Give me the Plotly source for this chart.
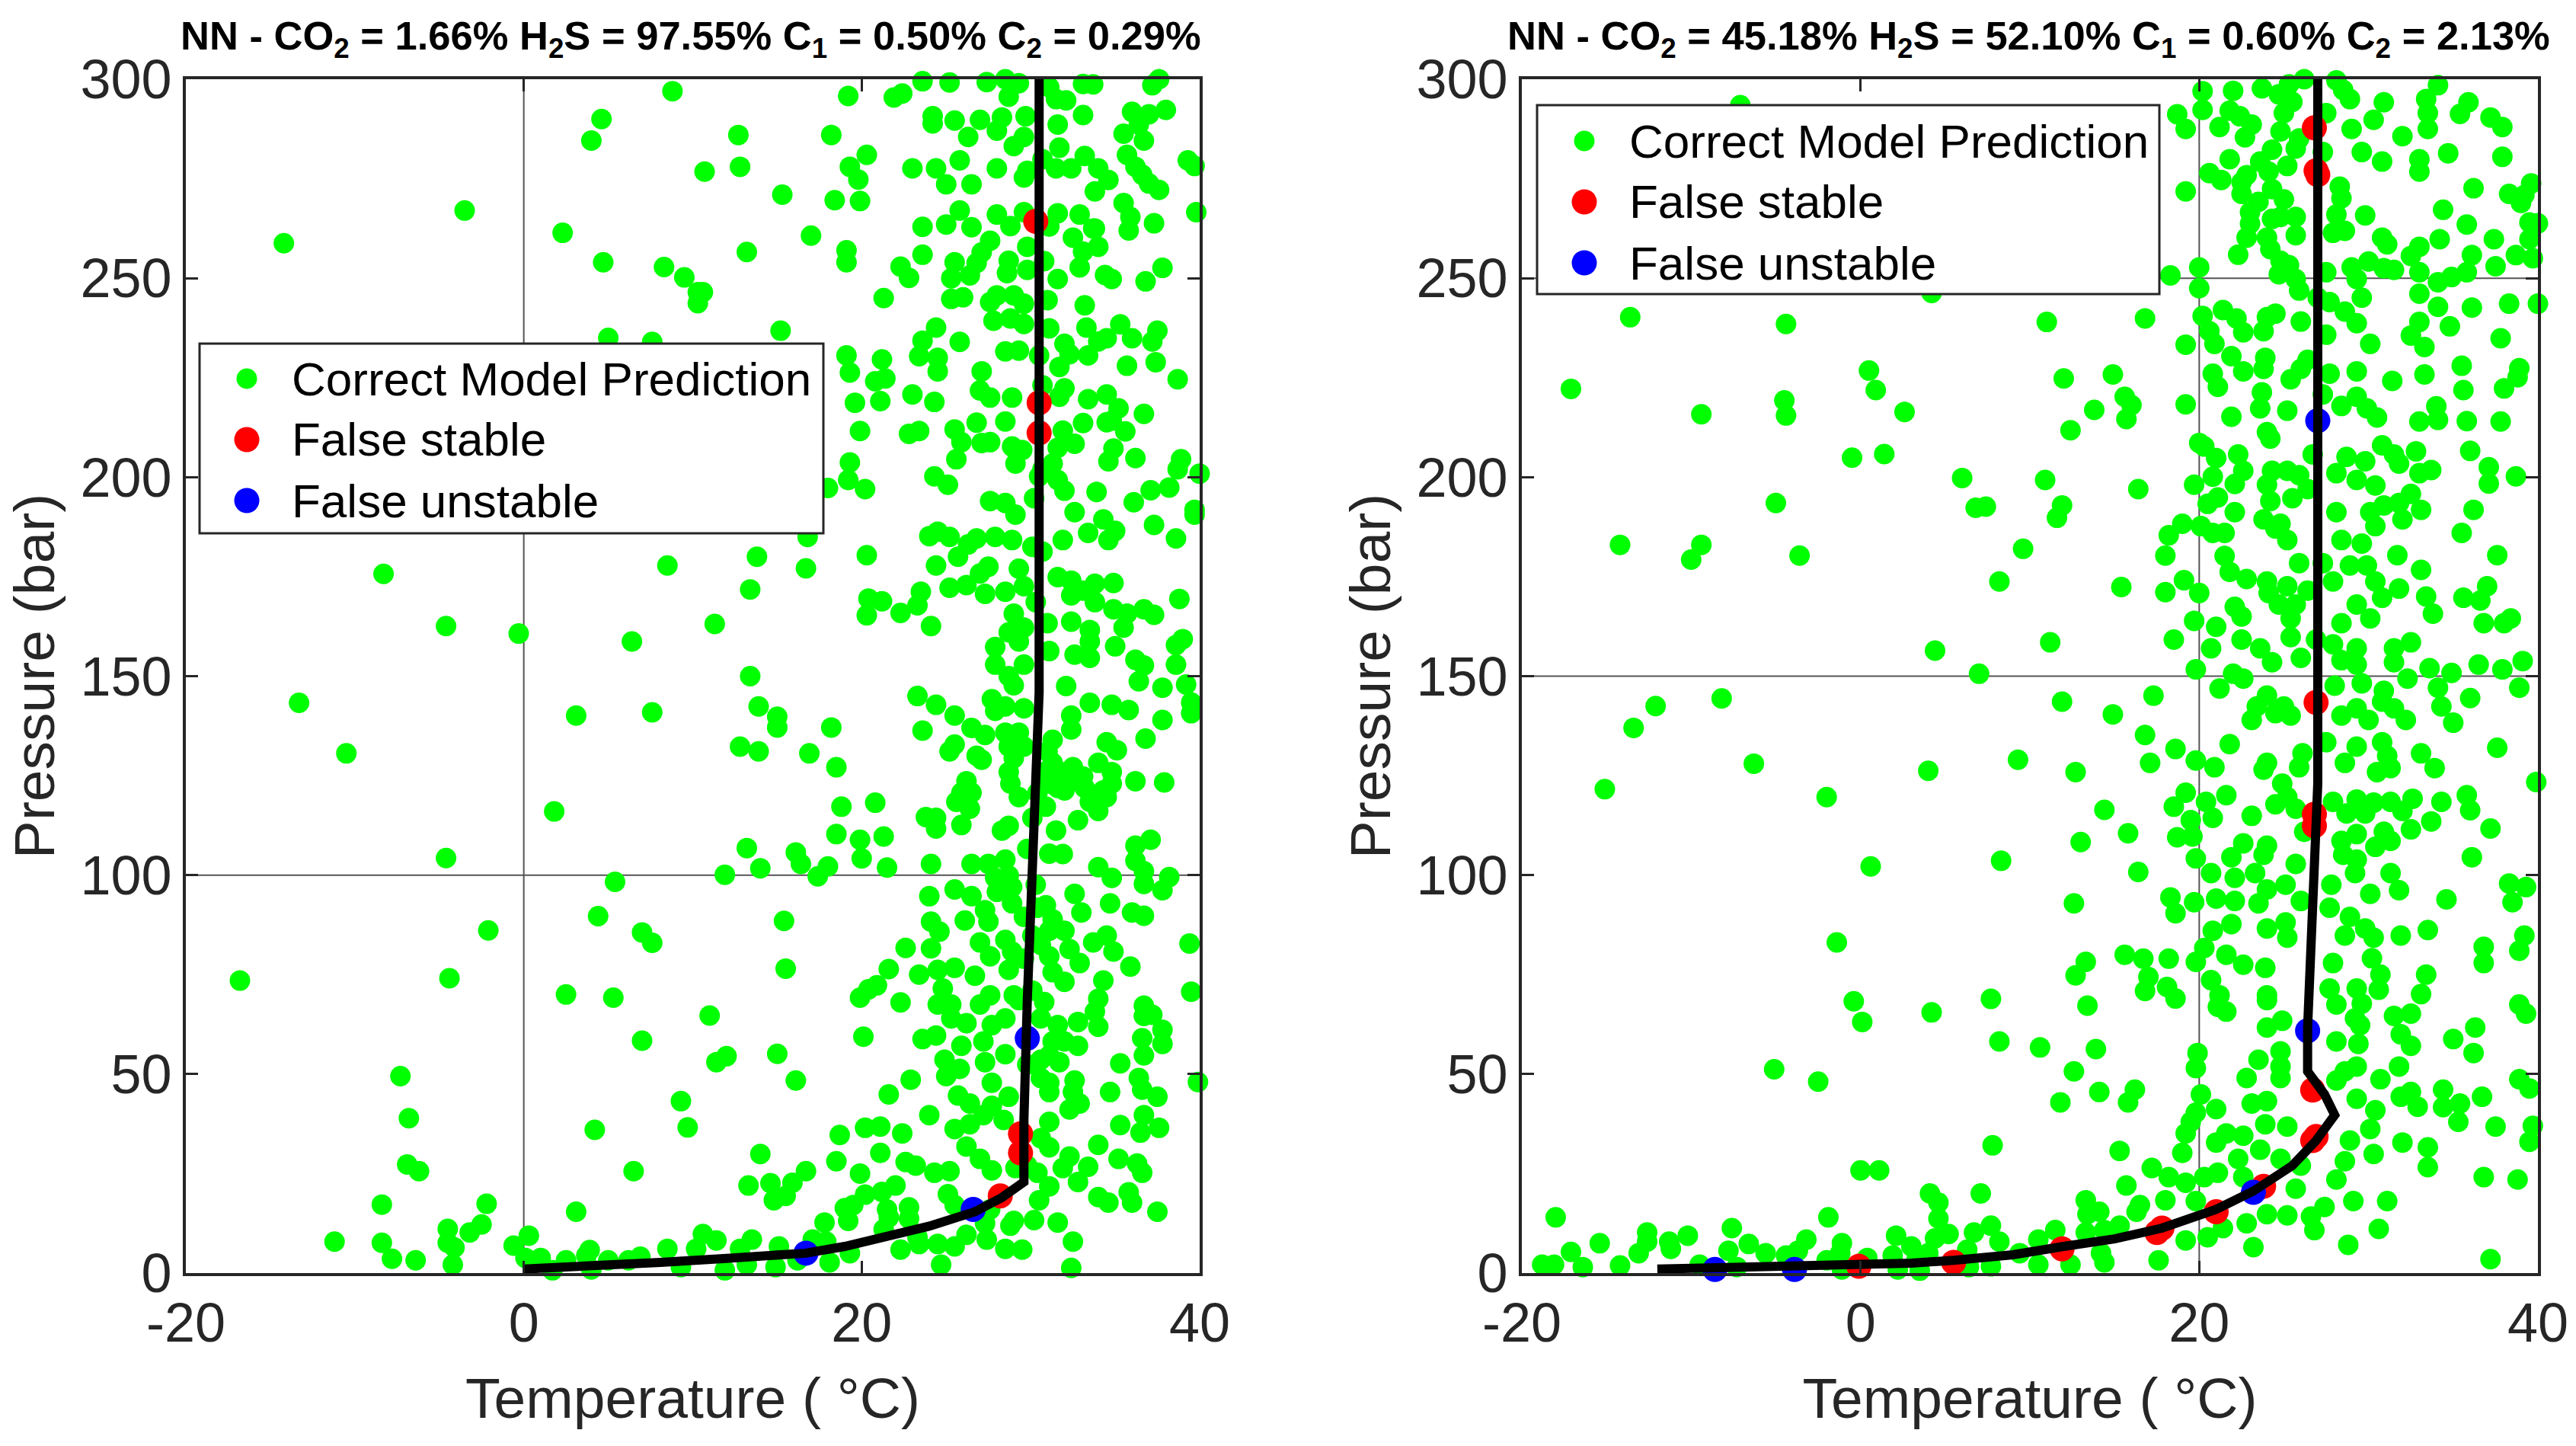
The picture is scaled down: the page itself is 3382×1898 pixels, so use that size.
import plotly.graph_objects as go

x_ticks = [-20, 0, 20, 40]
x_tick_labels = ["-20", "0", "20", "40"]
y_ticks = [0, 50, 100, 150, 200, 250, 300]
title_left = "NN - CO<sub>2</sub> = 1.66% H<sub>2</sub>S = 97.55% C<sub>1</sub> = 0.50% C<sub>2</sub> = 0.29%"
title_right = "NN - CO<sub>2</sub> = 45.18% H<sub>2</sub>S = 52.10% C<sub>1</sub> = 0.60% C<sub>2</sub> = 2.13%"
legend_labels = ["Correct Model Prediction", "False stable", "False unstable"]

left_line = [(0,1),(4,1.7),(8.1,2.7),(12,3.7),(16.7,5),(19,6.7),(21.5,9),(24,11.8),(26.7,15.4),(28.3,19),(29.6,22.9),(29.6,38.5),(29.8,68.6),(30.1,103),(30.5,146),(30.5,300)]
right_line = [(-12,1),(-4,1.5),(0,1.9),(3,2.5),(5.5,3.2),(9,4.6),(12,6.7),(15,8.6),(17.8,11.3),(21,16),(23.2,20.6),(25.5,27),(26.9,33.3),(28,39.7),(27.4,44.9),(26.4,50.7),(26.4,61.7),(26.8,100),(27,123),(27,143),(27,300)]
left_false_stable = [(30.3,264.3),(30.5,218.7),(30.5,211.1),(29.4,35),(29.4,30.2),(28.2,19.4)]
left_false_unstable = [(29.8,59),(26.6,16),(16.7,5)]
right_false_stable = [(26.8,287.8),(26.9,277),(27,276),(26.9,143.4),(26.8,115.3),(26.8,112.4),(26.7,46),(26.9,34.3),(26.7,33.3),(23.8,21.8),(21,15.4),(17.8,11.3),(17.5,10.2),(11.9,6.1),(5.5,2.7),(-0.1,1.7)]
right_false_unstable = [(27,214.2),(26.4,60.9),(23.2,20.3),(-3.9,0.9),(-8.6,0.9)]

left_correct = [
(-14.2,258.8),(-3.5,267),(8.8,297),(4.6,290),(4,284.6),(12.7,286),(10.7,276.8),(12.8,278),(18.2,286),(19.2,295.8),(20.3,281),(19.3,278),(19.8,274.8),(15.3,271),(18.4,269.6),(19.9,269.4),(2.3,261.4),(17,260.7),(13.2,256.6),(19.1,257),(19.1,254),(4.7,254),(8.3,252.8),(9.5,250.2),(10.3,246.5),(10.6,246.5),(10.3,243.7),(21.3,245),(15.2,236.8),(5,235),(7.6,234),(19.1,230.6),(21.2,229.6),(19.3,226.3),(21.4,224.8),(20.8,224.1),(19.6,218.7),(21.1,219.1),(19.9,211.6),(22.8,210.9),(23.4,211.6),(23,220.8),(24.3,218.9),(23.4,230.4),(24.5,230),(24.5,226.6),(23.6,234.3),(24.4,237.6),(25.8,234),(27.1,226.6),(27,221.8),(27.6,220),(28.9,220),(26.8,213.7),(25.5,212),(25.9,208.8),(27.1,208.6),(27.6,208.8),(28.5,214),(28.9,207.7),(29.5,206.8),(29.1,203.4),(25.6,204.5),(24.3,200.2),(25.1,198.1),(19.3,203.7),(19.2,199.3),(20.2,197),(18,197.3),(27.6,194),(28.5,193.5),(29.1,190.6),(30.2,194.7),(30.7,202),(31.3,203.4),(31.6,207.4),(32.6,208.4),(31.9,211.7),(33.1,213.6),(34.5,213.8),(35.6,211.5),(36.7,215.9),(35.2,217.3),(34.5,220.8),(33.4,219.6),(32,222.3),(31.7,220.2),(30.7,223.1),(30.5,230.6),(31.7,227.7),(32,233.5),(32.3,230.9),(33.4,230.6),(34,234.1),(34.5,234.9),(35.3,238.4),(33.3,237.6),(31.1,237.4),(36,234.9),(37.2,234.1),(37.5,236.8),(35.7,228),(37.4,228.9),(38.7,224.6),(34.8,214.2),(34.9,207.2),(34.6,204),(36.2,204.8),(38.9,204.5),(38.7,202),(40,200.9),(38.2,197.4),(37.1,196.7),(36.1,193.7),(33.9,196.3),(32,196.6),(31.6,199.3),(30.5,200.2),(39.7,191.8),(39.7,190.6),(32.6,191.2),(37.3,188),(38.6,184.6),(34.3,189.4),(33.4,186),(35,186.5),(34.6,184.2),(31.9,184.2),(30.7,181.3),(27.9,185),(26.8,184.6),(26.3,183.1),(25.7,180),(25.2,185),(24.5,186.3),(24,185.2),(28.9,184.2),(30.1,182.5),(29.3,177),(27.5,177.5),(24.4,177.8),(20.3,180.4),(16.8,185),(13.8,180),(8.5,177.8),(16.7,177.1),(-8.3,175.7),(13.4,171.8),(27,175.8),(26.2,172.9),(25.2,172.2),(27.3,170.7),(28.5,171.2),(29.6,172.6),(31.6,174.9),(32.4,174),(33.8,173.2),(34.9,173.4),(32.4,170.3),(33.1,171.5),(33.8,168.6),(30.3,168.6),(23.5,171.2),(23.3,167.8),(20.4,169.5),(21.2,168.8),(20.3,165.3),(22.3,165.9),(24.1,162.6),(29,165.7),(34.9,166.8),(35.7,165.7),(36.7,166.8),(37.3,165.4),(38.8,169.4),(11.3,163.1),(-4.6,162.6),(-0.3,160.7),(6.4,158.7),(28.7,161),(29.6,162.2),(31,163.3),(32.4,163.7),(33.5,161.6),(35.5,162.2),(33.5,158.7),(35,157.5),(39,159.3),(38.6,157.8),(27.9,157.3),(29.3,158.7),(31.1,156.3),(32.6,155.4),(33.5,154.6),(36.2,154.1),(36.7,152.7),(38.6,152.9),(27.9,152.9),(29.6,152.9),(28.7,150),(29,147.7),(36.4,148.7),(32.1,147.5),(37.8,147.1),(39.2,147.9),(13.4,150),(-13.3,143.3),(23.3,145),(13.9,142.4),(7.6,140.9),(3.1,140.1),(15,139.8),(24.4,142.8),(25.5,140.1),(27.7,144.2),(27.9,141.3),(28.5,142.4),(29.6,141.9),(32.4,140.1),(33.5,143.3),(34.8,142.8),(35.8,141.5),(37.8,139),(39.5,143.4),(39.5,140.7),
(23.6,299.5),(25.2,299.2),(22.4,296.4),(21.9,295.4),(27.4,299.3),(28.5,300),(28.7,295.6),(29.3,299),(31.1,298),(31.5,295),(32.1,294.7),(33.1,298.8),(33.7,298.7),(37.2,298.5),(37.6,300),(33.1,291),(31.6,288.6),(38,292.3),(37,291.2),(36,291.8),(36.4,288.6),(35.5,286.3),(36.7,284.6),(35.7,281),(36.2,278),(36.6,276),(37,273.8),(37.6,272.2),(39.3,279.6),(39.7,278.2),(39.8,266.6),(37.3,263.8),(35.5,268.9),(35.9,265.4),(35.8,262),(34,257.9),(33.8,262.5),(32.9,266),(32.5,260.2),(33.1,256.7),(32.9,252.7),(34.4,250.8),(34.8,249.8),(36.8,249.2),(37.8,252.6),(31.6,249.8),(30.8,254.3),(33.2,243.2),(31,244.5),(29.8,252.1),(28.6,251.3),(28.7,254.4),(29.8,257.9),(27.6,259.4),(27.1,256.5),(26.8,253.8),(26.4,250.7),(25.5,254),(25.3,250),(23.6,255.9),(22.3,252.9),(22.8,250.1),(25.3,244.8),(26,245.2),(27.6,244),(28,245.7),(29,245.7),(29.6,243.6),(27.8,239.3),(28.8,239.9),(29.6,238.5),(28.5,231.6),(29.3,231.8),(23.6,262.9),(25,263.5),(26.5,262.8),(25.8,267),(28,266),(28.8,263.1),(29.6,266.6),(31.1,263),(31.6,266.3),(33.7,262.5),(25,273.6),(26.5,273.6),(24.4,277.6),(23,277.6),(25.8,279.6),(28,277.6),(29.6,275.3),(29.8,277),(31.5,277.6),(32.4,277.6),(33.2,280.7),(34,277.6),(34.6,274.7),(33.8,271.8),(30.7,279.9),(31.7,282.8),(29,283.2),(29.6,285.5),(26.3,285.5),(24.2,288.9),(24.2,290.7),(25.5,289.6),(27,289.8),(28.3,290.4),(28,287.1),(29.7,290.7),
(-10.5,130.6),(12.8,132.3),(13.9,131.1),(16.9,130.6),(18.5,127.1),(15,137.1),(18.2,137.1),(23.6,136.3),(25.2,131.1),(25.5,132.8),(26.5,137),(26.8,130),(27.1,129),(27.3,135.2),(28.5,135.8),(28.7,132.3),(29,129.4),(28.7,125.9),(28.8,123),(29.3,119.6),(26.2,123.6),(25.9,120.7),(26.5,120.7),(26.4,116.7),(25.6,118.4),(18.8,117.2),(20.8,118.2),(1.8,116),(23.8,114.6),(24.4,114.4),(24.4,111.7),(25.9,112.6),(28.3,111.2),(28.7,112.4),(30.1,114.4),(31.5,111.2),(32.8,113.8),(34,116.1),(34.5,119.6),(34.8,123),(34.3,121.3),(33.5,118.4),(33.1,124.8),(32.5,127.1),(34,128.2),(34.8,125.9),(36.2,123.6),(37.9,123.3),(34.5,133.4),(35.1,131.4),(36.8,134.3),(32.4,136.6),(31.3,134),(31.3,128.2),(31.8,125.9),(31.1,123),(32,121.3),(30.4,120.7),(18.5,110.3),(19.9,108.9),(21.3,109.7),(13.2,106.8),(16.1,105.7),(16.4,102.8),(18,102.2),(20,104.2),(21.5,101.9),(17.4,99.7),(14,101.7),(11.9,100.1),(-4.6,104.3),(5.4,98.3),(24.1,102.8),(26.5,102.8),(27.5,102.8),(28.5,103.9),(29.8,106.6),(31.1,105.4),(31.9,105.3),(34,102),(34.8,99.3),(36.2,107.4),(37.1,108.9),(36.2,103.6),(36.7,101),(36.7,97.8),(38.2,99.5),(37.8,96.2),(28.7,99.9),(27.9,99.3),(28.9,97),(30.3,97.6),(25.5,96.4),(26.5,94.7),(24,94.7),(28,95.8),(28.9,92.9),(32.6,95.3),(30.9,92.4),(33,90.6),(34.7,92.9),(36,90.6),(36.7,89.8),(27.3,91.2),(27.5,88.3),(26.1,88.6),(24.1,88.3),(24.6,85.8),(15.4,88.5),(4.4,89.7),(-2.1,86.1),(7,85.6),(7.6,83),(22.6,81.7),(24.1,81.6),(27,83.1),(28.5,83.7),(27.6,79.6),(28.9,80.8),(30.1,84.8),(31.3,88.9),(32,86),(33.7,83.1),(34.5,84.8),(34.9,80.8),(32.3,81.4),(31.1,79.6),(32.9,77.9),(39.4,82.8),(39.5,70.7),(35.9,77),(34.3,73.5),(32,73.2),(30.8,68.1),(34,68.9),(33.8,65.7),(32.8,63.1),(34,61.9),(36.7,67.2),(36.7,64.6),(37.2,64.9),(37.8,61.1),(36.6,59),(37.8,57.6),(36.7,54.7),(35.3,52.7),(36.4,49),(36.6,46.1),(37.5,44.3),(39.9,48),(34.7,45.5),(31.6,62.3),(32,58.2),(32.8,57.1),(31.1,54.7),(31.7,53),(30.6,49),(32.6,48.4),(31.1,45.5),(32.5,45.5),(32.9,42.6),(32.3,41.1),(31.1,38),(35.3,37.2),(36.7,39.7),(36.5,35.3),(37.6,36.5),(34,32.2),(32.3,29.3),(35.2,28.7),(36.3,27.5),(36.6,25.2),(33.4,26.7),(31.1,31.6),(32.8,22.9),(31.1,21.8),(30.4,25.2),(31.9,26.4),(29.1,26.4),(34,19.1),(34.6,17.7),(35.8,20.3),(36,17.7),(37.5,15.4),(31.6,12.7),(30.2,13.3),(30.5,18.3),(29,13.1),(32.5,7.9),(32.4,1.3),(29.5,5.9),(28.5,6.1),(27.4,8.4),(26.2,9.6),(24.7,2.1),(24.5,7.3),(25.5,6.7),(23.4,7.3),(22.3,5.9),(19.3,5),(18.1,2.7),(17.9,7.9),(17.1,8.4),(14.9,1.5),(13.2,2.1),(11.9,0.7),(8.5,6.1),(9.3,1.5),(10.6,9.8),(11.4,8.2),(10.2,6.1),(13.5,8.4),(12.8,6.1),(15.1,6.7),(16.2,3.2),(3.9,5.8),(3.7,4.4),(5,3.2),(6.2,3.2),(6.9,4.1),(4,0.9),(2.5,3.2),(1.7,0.7),(1,3.8),(0.3,9.4),(-0.6,6.9),(0.1,3.8),(3.1,15.4),(6.5,25.6),(4.2,36),(9.7,36.6),(9.3,43.2),(16.1,48.4),(15,55.1),(11.4,53),(12,54.5),(7,58.4),(11,64.7),(2.5,70),(5.3,69.2),(-4.4,74.1),(-16.8,73.5),(15.5,76.5),(20.1,59.4),(23.6,58.8),(24.4,59.7),(25.9,57.1),(24.9,53.6),(25.8,51.3),(27.2,58.2),(27.7,62.3),(28.5,64),(26.2,62.8),(25.3,64),(27,67.5),(27.6,69.8),(29,69.8),(30.1,71),(24.5,67.5),(25.3,67.5),(24.8,71.5),(22.3,68),(19.9,69.2),(20.4,71.3),(20.9,72.3),(23.4,75),(21.6,76.4),(24.5,76.2),(25.5,76.7),(26.7,74.7),(28.7,76.2),(27.3,53),(28.5,55),(29.8,52.4),(25,49.5),(22.9,48.6),(21.6,44.9),(24,39.7),(25.7,44.6),(26.4,42.6),(27.7,47.8),(28.7,44.3),(25.5,36.2),(27.2,39.7),(26.2,31.8),(27,28.7),(27.7,25.8),(25.2,25.6),(24.3,25.2),(23.2,27),(22.6,27.9),(22.4,35.1),(21.1,36.8),(20.2,36.5),(18.7,34.7),(21.1,30.2),(18.5,28.1),(14,29.9),(16.7,25.6),(19.9,25),(15.9,22.7),(14.6,22.6),(13.3,22),(15.5,19.4),(14.8,18.3),(22,22),(20.2,19.7),(21.2,20.4),(25.1,19.8),(25.5,17.1),(21.5,16),(22.8,16.5),(19.5,17.1),(19,16.3),(21.6,14),(22.8,13.7),(19.2,13.1),(17.8,12.7),(21.3,11),(23.3,9),(27.6,16),(27.3,12.5),(28.8,11.9),(-2.2,17.4),(-8.4,17.2),(-11.2,7.9),(-8.4,7.6),(-7.8,3.6),(-6.4,3.2),(-2.5,12.2),(-3.2,10.2),(-4.5,11.1),(-4.5,7.6),(-4.1,6.4),(-4.2,2.1),(-6.9,27.3),(-6.2,25.6),(-6.8,38.9),(-7.3,49.5),
(30.8,125.9),(29.6,132.3),(31,131.1),(29.3,135.8),(31.6,121.9),(32.5,124),(33.2,121.9),(30.9,117.2),(29.6,89.5),(30.4,91.8),(31.1,86),(30.6,82.5),(29.6,79),(31.3,75.6),(29.3,68.6),(30.6,64),(31.3,58.2),(30.6,53.6),(31.1,47.8),(28.4,38.5),(27.7,42),(26.4,37.4),(30.6,33.9),(29.8,27),
]

right_correct = [
(-7.1,293.5),(20.2,297),(20.2,292.3),(18.7,291.2),(19.2,287.5),(21.2,288),(22,297.1),(21.8,292.1),(22.4,290.7),(23.1,288.6),(22.7,285.4),(23.7,297.7),(24.7,296.2),(25.3,298.7),(26.2,300),(25.5,294.3),(25,291.5),(24.8,286.9),(25.9,285.1),(21.8,279.9),(24.3,282.3),(25.7,282.6),(27.3,281.7),(28.1,299.7),(28.5,297.3),(28.9,295),(27.5,291.5),(29,287.5),(30.3,289.8),(30.9,294.2),(34.1,298.5),(33.4,295),(33.5,291.5),(33.5,287.5),(32,285.7),(29.6,281.7),(30.8,279.3),(33,279.9),(33,276.8),(34.7,281.4),(35.4,291.3),(35.9,294.2),(37.2,290.4),(37.9,288),(37.9,280.5),(36.2,272.6),(38.3,271.2),(39,268.9),(39.6,273.8),(39.2,270.9),(34.4,267.2),(35.8,263.5),(39.5,264),(40,263.8),(39.5,259.8),(37.4,259.8),(34.2,259.8),(33,257.9),(32.5,255.6),(36.1,255.8),(37.5,253),(38.7,255.8),(39.7,255),(35.8,251.5),(34.9,250.3),(34.1,249),(33,251.5),(31.5,252.1),(30.9,252.5),(30,254.2),(30.8,260.2),(31.1,258.5),(29.8,265.8),(28.6,261.9),(27.9,261.4),(28.3,273),(28.4,270.1),(20.6,276.4),(21.3,274.7),(19.2,271.8),(22.5,274.1),(22.5,271.2),(22.8,275.9),(23.6,279.3),(24.1,276.8),(25.2,278.2),(24.3,272.4),(25,269.8),(23.5,269.2),(23,266.6),(23,263.7),(24.3,264.9),(24.8,265.4),(25.7,265.4),(25.7,260.8),(24,260.2),(22.8,260.2),(22.3,255.9),(24.2,257.3),(24.8,254.4),(25.3,253.3),(24.7,251),(25.7,249.8),(25.9,246.9),(28.1,266),(27,245.1),(27.5,251.5),(29,252.7),(29.3,249.8),(27.7,244),(29.6,245.1),(28.6,241.6),(29.3,238.7),(27.5,235.8),(26,239.1),(24.5,241.1),(24,240.2),(21.4,242),(22.2,239.9),(22.6,236.4),(23.8,236.7),(20.2,240.5),(20.6,236.7),(20.9,233.5),(19.2,233.3),(20,252.7),(20,247.5),(18.3,250.7),(16.8,239.9),(11,239),(-4.4,238.5),(-13.6,240.2),(4.2,246.3),(33,246.1),(34.1,242.8),(36.1,242.6),(38.3,243.6),(40,243.6),(33,239),(32.5,235.6),(34.8,237.9),(33.3,232.7),(37.8,234.9),(30.1,233.5),(29.3,226.6),(31.4,224.2),(33.3,225.8),(35.5,228),(35.6,221.9),(38,222.3),(38.8,225.1),(38.9,227.4),(37.8,214),(35.8,214.1),(34.1,214.4),(34,217.8),(33,214),(30.5,215),(29.3,220.2),(29.9,217.3),(28.4,217.9),(27.3,220.8),(27.7,226),(26.4,229.5),(26,227.2),(25.4,224.6),(23.9,230),(23.8,227.2),(21.9,230.4),(22.6,226.6),(20.8,226),(21.1,222.7),(23.7,221.3),(23.6,217.3),(25.2,216.7),(21.9,215.2),(19.2,218.3),(14.9,225.8),(12,224.8),(15.6,220.2),(16,218.1),(13.8,216.9),(15.7,214.6),(12.4,211.8),(2.6,216.4),(0.9,221.9),(0.5,226.8),(-4.5,219.3),(-4.4,215.5),(-9.4,215.8),(-17.1,222.2),(-0.5,204.9),(1.4,205.8),(6,199.8),(10.9,199.3),(16.4,197),(11.9,192.9),(11.6,189.8),(7.4,192.6),(6.8,192.3),(-5,193.5),(-14.2,183),(-9.4,183),(-10,179.3),(-3.6,180.3),(9.6,182),(8.2,173.8),(15.4,172.4),(18,171.1),(19.1,174.1),(20,170.9),(18,180.3),(18.2,185.4),(19,188.3),(20.1,187.7),(20.8,186),(21.5,186),(20.5,193.3),(21.1,194.9),(22.1,191.2),(19.7,198.1),(20.8,200.1),(22.1,198.3),(22.6,201.6),(21,204.8),(22.3,205.7),(20,208.6),(20.3,207.7),(24,211.3),(24.2,209.7),(24.3,201.6),(25.2,201.6),(24,198.1),(24.2,194),(25.5,194.7),(23.8,189.4),(24.8,188.3),(25.2,184.2),(24.5,187.1),(26.7,205.7),(25.9,200.5),(26.4,197),(28.1,201),(28.7,205.1),(29.3,199.3),(29.8,204),(30.4,197.9),(30.8,208),(31.5,205.7),(31.8,203.4),(32.8,206.5),(33,201),(33.7,201.8),(36,206.6),(37.1,202.5),(37.1,198.4),(38.7,200.2),(36.2,191.8),(35.5,186),(37.6,180.4),(33.1,176.7),(33.1,191.8),(32.5,195.8),(31.8,193.5),(32,189.4),(30.9,192.9),(30.1,191.2),(30.4,187.7),(28.1,191.2),(28.4,184.2),(29.6,183.3),(31.7,180.4),(25.9,178.4),(27.3,178.4),(28.9,177.8),(29.9,177.8),(30.4,173.8),(31.8,172),(30.8,169.7),(29.3,168),(27.9,173.8),(26.4,171.5),(25.2,172.6),(24,173.8),(24.1,170.9),(22.8,174.4),(21.5,180.2),(21.8,176.2),(24.7,168),(25.7,168),(22.1,167.4),(22.5,165),(25.4,164.5),(33.4,170),(33.8,165.7),(35.6,169.7),(36.6,169),(37,172.6),(36.8,163.3),(38,163.3),(38.4,164.5),(30.1,164.5),(28.4,163.3),(19.7,163.9),(21,162.4),(18.5,159.2),(20.7,157),(22.5,159.2),(23.6,157),(24.3,153.5),(25.4,159.8),(26,154.6),(26.9,159.2),(27.9,158),(29.3,157),(28.4,154),(29.3,152.9),(31.5,157),(32.5,158.5),(31.5,153.5),(33.6,152),(34.9,150.8),(36.5,152.9),(37.9,151.7),(39.1,153.8),(32.3,149.4),(29.6,148.2),(28,147.6),(34.1,147.1),(36,144.5),(38.9,147.1),(30.9,146.3),(30.8,143.6),(31.5,141.9),(29.3,141.9),(28.4,140.1),(34.3,142.4),(35,138.3),(32.2,139),(30,139),(19.8,151.7),(22,150.6),(22.6,149.4),(21.2,146.9),(24,145.1),(23.4,142.4),(23.1,139),(25,142.4),(24.5,140.7),(25.4,140.1),(17.3,145.1),(11.2,158.5),(4.4,156.4),(7,150.6),(11.9,143.6),(14.9,140.4),(-8.2,144.4),(-12.1,142.5),(-13.4,137),
(-15.1,121.6),(-6.3,128),(-2,119.6),(4,126.2),(9.3,129),(12.7,125.9),(16.8,135.2),(17.1,128.2),(18.6,131.7),(19.8,128.8),(20.9,127.1),(21.8,132.9),(23.8,126.5),(24,128.2),(25.9,127.1),(26.1,130.6),(27.5,133.4),(28.6,128.2),(29.3,132.3),(30.8,133.4),(31.1,130),(30.5,125.9),(31.3,126.9),(33.1,130.6),(33.9,126.9),(37.6,132),(39.9,123.4),(35.8,120.1),(36,116.3),(34.3,118.4),(32.6,119.2),(32,116.1),(33.7,113.5),(37.2,111.7),(31.3,118.4),(29.3,119),(30.3,118.2),(27.9,118.4),(28.7,115.5),(29.8,115.5),(32.5,111.5),(31.3,108.6),(30.9,110.9),(30.4,107.1),(29.3,110.3),(28.4,108.6),(29.3,103.9),(28.5,105.1),(29.2,100.5),(31.3,100.5),(31.8,96.2),(30.1,95.3),(27.8,97.6),(36.1,104.5),(38.3,97.9),(39.3,97),(38.5,93.2),(34.6,93.9),(39.2,84.8),(38.9,81),(33.5,86.2),(31.9,84.8),(30.3,84.3),(29.8,86.6),(28.9,89.5),(27.7,91.8),(28.6,84.8),(27.9,77.9),(30.2,79.1),(30.7,75),(33.4,75),(33.1,70.1),(29.3,71.5),(30.6,71.2),(29.6,67.7),(27.7,71.5),(28.1,67.5),(29.2,64),(29.5,62.3),(31.5,64.6),(32.5,65.2),(31.9,60),(32.5,57.1),(29.4,57.6),(28.1,58.2),(36.3,61.7),(35,58.8),(36.2,55.3),(38.9,67.5),(39.3,65.2),(36.8,82),(36.8,77.9),(31.8,51.9),(29.3,51.9),(28.6,50.7),(30.7,48.7),(28.1,48.4),(32.5,45.5),(31.9,44.3),(30.4,40.9),(29.3,43.8),(32.9,41.8),(34.4,46.1),(34.4,41.7),(35.4,42.6),(35.3,38),(36.7,44.3),(38.9,48.7),(39.5,46.4),(37.5,36.8),(39.7,37),(39.5,33),(32,32.8),(33.5,31.6),(33.5,26.6),(30.3,29.9),(30.1,36.2),(28.9,33.3),(28.6,28.1),(28.1,23.5),(36.8,24.1),(38.8,23.5),(31.1,18.1),(29.1,18.1),(27.4,16.6),(26.6,14.2),(26.8,10.8),(30.6,11.1),(28.8,7.1),(37.2,3.5),(23.2,6.5),(25.2,14.5),(24,14.8),(22.8,12.5),(21.4,11.3),(20.5,9),(19.2,8.2),(17.6,3.2),(25.7,21.2),(26,27),(23.6,31),(24.8,28.7),(22.6,34.5),(21.6,35.1),(21,32.8),(19,30.2),(19.2,35.1),(19.5,38),(19.8,40.3),(20.1,44.9),(21,41.2),(23.1,42.6),(24,43.2),(23.9,37.4),(25.2,36.8),(22.8,49),(23.5,53.6),(24.8,55.7),(24.8,51.9),(24.8,49),(24,61.7),(24.9,63.4),(19.9,55.3),(19.8,51.5),(23.9,76.7),(24,69.8),(21.1,66.9),(21.6,65.7),(20.7,73.6),(21.2,69.8),(24,68.6),(18.6,69),(18.1,71.9),(16.8,70.9),(17,74.4),(16.7,79),(15.6,80),(18.2,79),(19.8,78.2),(20.3,81.7),(21.6,80),(22.6,77.5),(20.8,86),(21.9,87.7),(24,86.6),(25.1,88.1),(25.2,84.3),(26,93.5),(23.5,92.9),(22.1,93.5),(21,94.1),(19.7,93.2),(18.3,94.4),(18.6,90.4),(24,96.4),(25.1,97.6),(23.3,100.5),(22.1,99.3),(20.7,100.5),(19.8,104.2),(21.9,104.5),(22.6,108),(23.8,105.1),(24,107.4),(25.7,102.8),(26.2,110.9),(18.7,109.5),(19.6,109.7),(19.5,113.8),(20.8,114.4),(23.1,114.9),(18.5,117.2),(19.2,120.7),(20.4,118.4),(21.6,120.1),(24.5,117.8),(25.2,119.6),(25.7,116.7),(24.9,123),(15.8,110.5),(14.4,116.4),(13,108.3),(8.3,103.6),(0.6,102.2),(16.4,100.8),(12.6,92.9),(-1.4,83.1),(13.3,78.2),(12.7,74.8),(7.7,68.9),(4.2,65.5),(13.4,67.2),(-0.4,68.3),(0.1,63.1),(8.2,58.2),(10.6,56.7),(13.9,56.3),(12.6,50.7),(-5.1,51.2),(-2.5,48.1),(14.1,45.5),(16.2,46.1),(15.8,42.9),(11.8,42.9),(7.8,32.1),(15.3,30.7),(0,25.8),(1.1,25.8),(17.2,26.4),(18.2,24.1),(19.2,22.7),(15.7,22),(20.3,24.1),(21.1,25.2),(22.3,28.7),(22.6,24.1),(19.8,18.1),(18,18.3),(16.5,17.1),(16.3,15.4),(13.3,18.3),(14.1,15.4),(13.4,14.8),(4.1,20),(7.1,20),(4.6,17.7),(4.6,13.7),(-1.9,14),(-18,14),(-7.6,11.3),(-12.6,10.2),(-10.2,9.4),(-11.3,7.9),(-12.6,7.9),(-11.2,6.1),(-15.4,7.5),(-17.1,5.3),(-13.1,5),(-18.8,2.1),(-18.1,2.1),(-16.4,1.5),(-14.2,1.9),(-3.2,8.4),(-6.6,7.3),(-7.8,5.6),(-5.6,5),(-4.4,4.4),(-3.7,5.6),(-7.3,1.5),(-9.5,2.1),(-2,3.2),(-1.1,7.5),(-1.2,5),(-1.1,0.9),(0.4,3.8),(2.1,9.4),(1.9,4.4),(3,6.7),(2.2,0.9),(3.5,0.6),(3.3,3.2),(4.4,8.7),(5.2,9.8),(4,5),(6.7,10.2),(7.7,11.9),(8.2,7.9),(6.3,5.9),(7.7,1.7),(6.4,1.5),(9.4,5),(10.5,8.4),(11.5,10.8),(10.5,2.1),(12.4,2.1),(13.3,10.2),(15.3,11.9),(14.4,10.8),(14.2,5),(14.4,2.7),
]

W, H = 3382, 1898
TEXT = "#262626"
GREEN, RED, BLUE = "#00ff00", "#ff0000", "#0000ff"
FONT = "Liberation Sans"
COLORS = [GREEN, RED, BLUE]
SIZES = (27, 33, 33)
AX_TOP, AX_BOT = 104, 1671


def xy(pairs):
    return [p[0] for p in pairs], [p[1] for p in pairs]


def add_panel(fig, suffix, correct, stable, unstable, line):
    common = dict(xaxis="x" + suffix, yaxis="y" + suffix, cliponaxis=False, showlegend=False)
    for name, pts, color, size in zip(legend_labels, (correct, stable, unstable), COLORS, SIZES):
        x, y = xy(pts)
        fig.add_trace(go.Scatter(x=x, y=y, mode="markers", name=name,
                                 marker=dict(color=color, size=size, line=dict(width=0)), **common))
    x, y = xy(line)
    fig.add_trace(go.Scatter(x=x, y=y, mode="lines", line=dict(color="black", width=12), **common))


fig = go.Figure()
add_panel(fig, "", left_correct, left_false_stable, left_false_unstable, left_line)
add_panel(fig, "2", right_correct, right_false_stable, right_false_unstable, right_line)

tick_font = dict(family=FONT, size=72, color=TEXT)
axis_font = dict(family=FONT, size=75, color=TEXT)
common_axis = dict(showgrid=False, zeroline=False, ticks="inside", ticklen=16, tickwidth=3, tickcolor=TEXT,
                   showline=True, mirror="ticks", linecolor=TEXT, linewidth=4, tickfont=tick_font,
                   automargin=False)


def xaxis(dom):
    return dict(domain=[dom[0] / W, dom[1] / W], range=[-20, 40], tickvals=x_ticks, ticktext=x_tick_labels,
                title=dict(text="Temperature ( °C)", font=axis_font, standoff=34), **common_axis)


def yaxis(anchor):
    return dict(domain=[1 - AX_BOT / H, 1 - AX_TOP / H], range=[0, 300], tickvals=y_ticks, anchor=anchor,
                title=dict(text="Pressure (bar)", font=axis_font, standoff=10), **common_axis)


grid = dict(type="line", layer="below", line=dict(color="#555555", width=2))
shapes = [
    dict(xref="x", yref="paper", x0=0, x1=0, y0=1 - AX_BOT / H, y1=1 - AX_TOP / H, **grid),
    dict(xref="paper", yref="y", x0=244 / W, x1=1575 / W, y0=100, y1=100, **grid),
    dict(xref="x2", yref="paper", x0=20, x1=20, y0=1 - AX_BOT / H, y1=1 - AX_TOP / H, **grid),
    dict(xref="paper", yref="y2", x0=1998 / W, x1=3332 / W, y0=250, y1=250, **grid),
    dict(xref="paper", yref="y2", x0=1998 / W, x1=3332 / W, y0=150, y1=150, **grid),
]

title_font = dict(family=FONT, size=52.5, color="black", weight="bold")
annotations = [
    dict(text=title_left, xref="paper", yref="paper", x=907 / W, y=1 - 86 / H, xanchor="center",
         yanchor="bottom", showarrow=False, font=title_font),
    dict(text=title_right, xref="paper", yref="paper", x=2663 / W, y=1 - 86 / H, xanchor="center",
         yanchor="bottom", showarrow=False, font=title_font),
]


def add_legend(box, rows, marker_x, text_x):
    x0, y0, x1, y1 = box
    shapes.append(dict(type="rect", layer="above", xref="paper", yref="paper", x0=x0 / W, x1=x1 / W,
                       y0=1 - y1 / H, y1=1 - y0 / H, fillcolor="white", line=dict(color=TEXT, width=3)))
    for label, row, color, d in zip(legend_labels, rows, COLORS, SIZES):
        shapes.append(dict(type="circle", layer="above", xref="paper", yref="paper",
                           x0=(marker_x - d / 2) / W, x1=(marker_x + d / 2) / W,
                           y0=1 - (row + d / 2) / H, y1=1 - (row - d / 2) / H,
                           fillcolor=color, line=dict(width=0)))
        annotations.append(dict(text=label, xref="paper", yref="paper", x=text_x / W, y=1 - row / H,
                                xanchor="left", yanchor="middle", showarrow=False,
                                font=dict(family=FONT, size=62, color="black")))


add_legend((262, 451, 1081, 700), (497, 577, 657), 324, 381)
add_legend((2018, 138, 2835, 386), (185, 265, 345), 2080, 2137)

fig.update_layout(
    width=W, height=H, margin=dict(l=0, r=0, t=0, b=0), paper_bgcolor="white", plot_bgcolor="white",
    xaxis=xaxis((244, 1575)), yaxis=yaxis("x"),
    xaxis2=xaxis((1998, 3332)), yaxis2=yaxis("x2"),
    shapes=shapes, annotations=annotations, showlegend=False,
)
fig.write_html("out.html", post_script="document.body.style.margin='0';",
               config=dict(displayModeBar=False))
